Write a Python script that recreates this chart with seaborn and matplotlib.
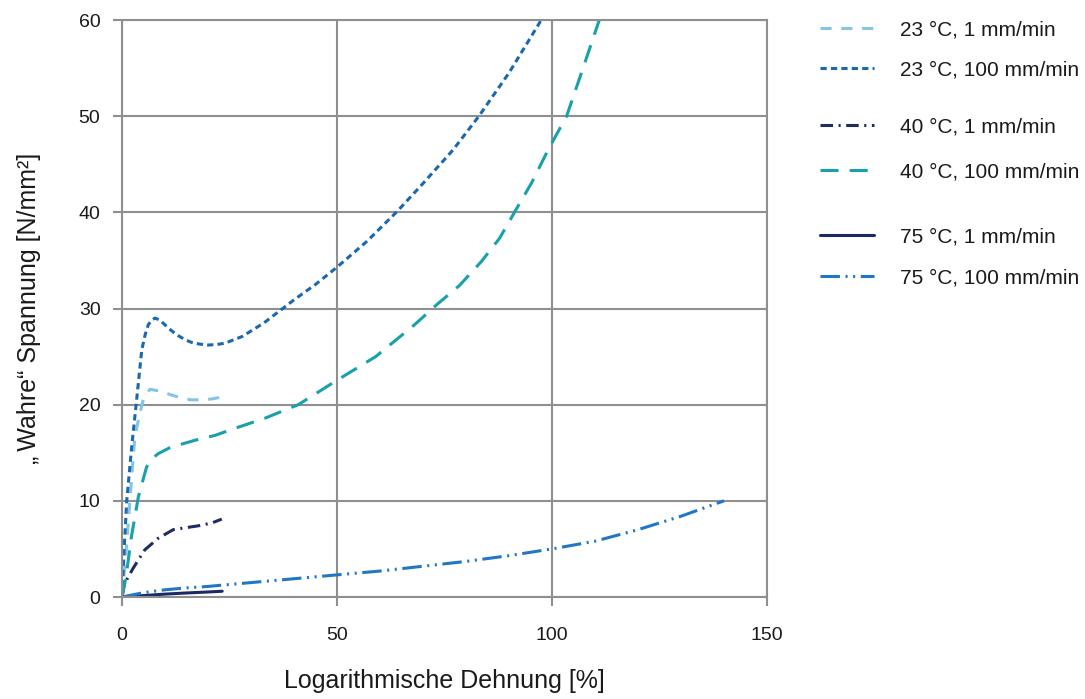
import matplotlib
matplotlib.use("Agg")
import matplotlib.pyplot as plt
import seaborn as sns
from matplotlib.lines import Line2D

# Logarithmic strain [%] and true stress [N/mm²] per test condition
x_23_1 = [0, 1, 2, 3, 4.2, 5, 6.5, 9, 11.5, 13.9, 16, 18.5, 21, 23.2]
y_23_1 = [0, 5, 11, 16.7, 19.2, 20.6, 21.6, 21.4, 21.0, 20.7, 20.5, 20.5, 20.6, 20.8]

x_23_100 = [0, 0.5, 1.1, 2.25, 3.4, 4.6, 5.4, 6.1, 6.9, 7.7, 8.8, 10, 11.5, 13, 14.5, 16, 18, 20, 22,
            24, 28, 33, 40, 45, 50, 57, 64, 70, 77, 83, 90, 97.5]
y_23_100 = [0, 5, 10, 15.6, 20.5, 25.7, 27.3, 28.3, 28.8, 29.0, 28.8, 28.3, 27.7, 27.2, 26.8, 26.5, 26.3, 26.2, 26.25,
            26.4, 27.1, 28.5, 30.9, 32.5, 34.3, 37, 40.1, 43, 46.5, 50, 54.5, 60]

x_40_1 = [0, 0.5, 1.1, 2.6, 5.3, 8.4, 11.9, 14.7, 17.7, 20.9, 23.2]
y_40_1 = [0, 1.2, 1.8, 3.0, 4.9, 6.1, 7.0, 7.2, 7.4, 7.7, 8.1]

x_40_100 = [0, 0.9, 2.2, 3.8, 5.7, 7.0, 8.4, 11, 13.9, 17, 21.6, 26, 33.3, 41, 49.5, 59, 68, 73.2, 78.5,
            83.6, 87.8, 91.4, 95.3, 99.1, 103.4, 107.3, 111]
y_40_100 = [0, 2, 6.3, 10.4, 13.5, 14.4, 14.9, 15.5, 15.9, 16.3, 16.8, 17.5, 18.6, 20.0, 22.4, 25.0, 28.3, 30.4, 32.4,
            34.9, 37.3, 40.1, 43.1, 46.5, 50, 55.1, 60]

x_75_1 = [0, 5, 10, 15, 20, 23.3]
y_75_1 = [0, 0.15, 0.3, 0.42, 0.52, 0.6]

x_75_100 = [0, 5, 10, 15, 20, 30, 40, 50, 60, 70, 80, 90, 100, 110, 120, 130, 140]
y_75_100 = [0, 0.45, 0.75, 0.95, 1.1, 1.5, 1.9, 2.3, 2.7, 3.2, 3.7, 4.3, 5.0, 5.8, 7.0, 8.4, 10.0]

labels = ["23 °C, 1 mm/min", "23 °C, 100 mm/min",
          "40 °C, 1 mm/min", "40 °C, 100 mm/min",
          "75 °C, 1 mm/min", "75 °C, 100 mm/min"]

sns.set_theme(style="whitegrid")
plt.rcParams["font.family"] = ["Liberation Sans", "DejaVu Sans"]
plt.rcParams["lines.scale_dashes"] = False

series = [
    (x_23_1, y_23_1, "#84c4e6", (0, (8, 7))),
    (x_23_100, y_23_100, "#1a69b0", (0, (4.5, 3))),
    (x_40_1, y_40_1, "#1f2b63", (0, (9, 4, 1.5, 4))),
    (x_40_100, y_40_100, "#18a0ab", (0, (13, 8))),
    (x_75_1, y_75_1, "#1b2a66", "-"),
    (x_75_100, y_75_100, "#1f77c6", (0, (14, 4, 1.5, 4, 1.5, 4))),
]

fig = plt.figure(figsize=(10.85, 6.99), dpi=100)
ax = fig.add_axes([122 / 1085, 1 - 597 / 699, (767 - 122) / 1085, (597 - 20) / 699])

grid_c = "#8f8f8f"
text_c = "#1a1a1a"
for xs, ys, c, ls in series:
    sns.lineplot(x=xs, y=ys, ax=ax, color=c, linestyle=ls, linewidth=2.2,
                 sort=False, estimator=None, legend=False)

ax.set_xlim(0, 150)
ax.set_ylim(0, 60)
ax.set_xticks([0, 50, 100, 150])
ax.set_yticks(range(0, 61, 10))
ax.grid(True, color=grid_c, linewidth=1.5)
for s in ax.spines.values():
    s.set_color(grid_c)
    s.set_linewidth(1.5)
ax.tick_params(axis="both", which="major", length=6.5, width=1.5, color=grid_c,
               labelsize=14, labelcolor=text_c, direction="out")
ax.tick_params(axis="x", pad=15, bottom=True)
ax.tick_params(axis="y", pad=9, left=True)

ax.set_xlabel("Logarithmische Dehnung [%]", fontsize=18, color=text_c, labelpad=18)
ax.set_ylabel("\u201E\u2009Wahre\u201C Spannung [N/mm²]", fontsize=18, color=text_c, labelpad=27)

# legend: one entry per row, grouped by temperature
handles = [Line2D([], [], color=c, linestyle=ls, linewidth=2.2) for _, _, c, ls in series]
row_y = [30, 70, 127, 172, 237, 278]
for h, lab, yc in zip(handles, labels, row_y):
    leg = fig.legend([h], [lab], loc="center left",
                     bbox_to_anchor=(820 / 1085, 1 - yc / 699),
                     frameon=False, fontsize=15, handlelength=2.6, handletextpad=1.25,
                     borderpad=0, borderaxespad=0)
    for t in leg.get_texts():
        t.set_color(text_c)

fig.savefig("out.png", dpi=100)
